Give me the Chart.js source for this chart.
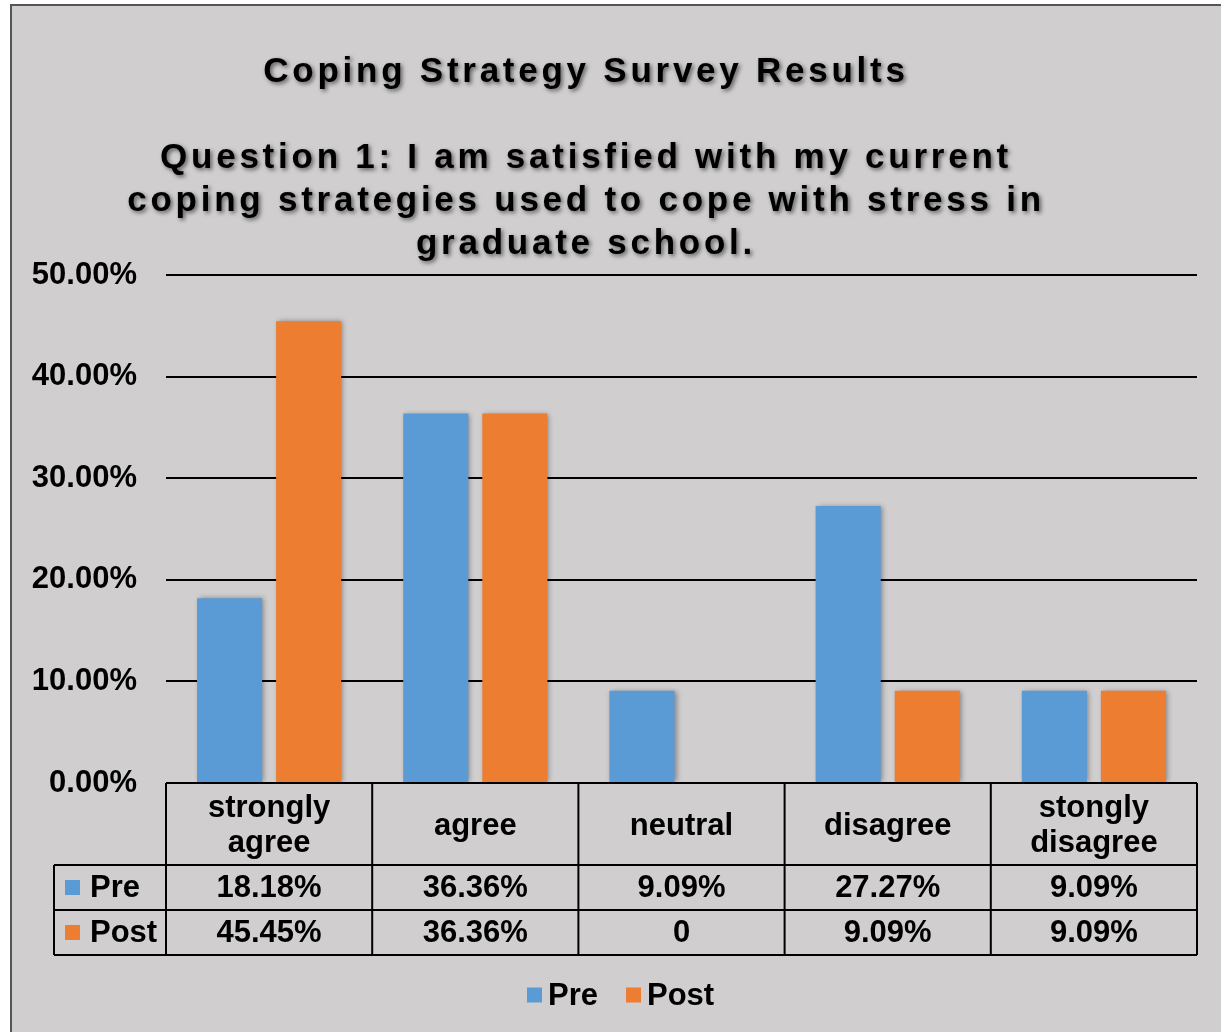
<!DOCTYPE html>
<html>
<head>
<meta charset="utf-8">
<script src="https://cdn.jsdelivr.net/npm/chart.js@4/dist/chart.umd.min.js"></script>
<style>
  html, body { margin: 0; padding: 0; background: #fff; }
  #wrap { width: 1221px; height: 1032px; }
</style>
</head>
<body>
<div id="wrap"><canvas id="chart" width="1221" height="1032"></canvas></div>
<script>
// ── DATA ──────────────────────────────────────
const categories  = [['strongly', 'agree'], 'agree', 'neutral', 'disagree', ['stongly', 'disagree']];
const preValues   = [18.18, 36.36, 9.09, 27.27, 9.09];
const postValues  = [45.45, 36.36, 0, 9.09, 9.09];
const seriesNames = ['Pre', 'Post'];
const yTicks      = [0, 10, 20, 30, 40, 50];
const titleMain   = 'Coping Strategy Survey Results';
const titleSub    = ['Question 1: I am satisfied with my current',
                     'coping strategies used to cope with stress in',
                     'graduate school.'];

const BLUE = '#5B9BD5', ORANGE = '#ED7D31', BG = '#D0CECE';
const FONT = '"Liberation Sans", Arial, sans-serif';

const fmtCell = v => v === 0 ? '0' : v.toFixed(2) + '%';

// frame, title, bar shadow, data table and legend
const decor = {
    id: 'decor',
    beforeDraw(chart) {
        const ctx = chart.ctx;
        ctx.save();
        ctx.fillStyle = '#fff';
        ctx.fillRect(0, 0, chart.width, chart.height);
        ctx.fillStyle = BG;
        ctx.fillRect(11, 5, chart.width, chart.height);
        ctx.strokeStyle = '#555';
        ctx.lineWidth = 2;
        ctx.strokeRect(11, 5, chart.width + 10, chart.height + 10);

        ctx.fillStyle = '#000';
        ctx.font = `bold 35px ${FONT}`;
        ctx.textAlign = 'center';
        ctx.textBaseline = 'alphabetic';
        ctx.letterSpacing = '3.75px';
        ctx.shadowColor = 'rgba(0,0,0,0.55)';
        ctx.shadowBlur = 4;
        ctx.shadowOffsetX = 2;
        ctx.shadowOffsetY = 2;
        ctx.fillText(titleMain, 586, 82);
        titleSub.forEach((line, i) => ctx.fillText(line, 586, 168 + i * 43));
        ctx.restore();
    },
    beforeDatasetsDraw(chart) {
        const ctx = chart.ctx;
        ctx.save();
        ctx.shadowColor = 'rgba(0,0,0,0.35)';
        ctx.shadowBlur = 5;
        ctx.shadowOffsetX = 2;
        ctx.shadowOffsetY = 0;
    },
    afterDatasetsDraw(chart) {
        chart.ctx.restore();
    },
    afterDraw(chart) {
        const ctx = chart.ctx;
        const x = chart.scales.x;
        const area = chart.chartArea;
        const half = (area.right - area.left) / categories.length / 2;
        const top = area.bottom, hdrB = top + 82, preB = hdrB + 45, postB = preB + 45;
        const labL = 54;

        ctx.save();
        ctx.strokeStyle = '#000';
        ctx.lineWidth = 2;
        ctx.beginPath();
        // horizontal lines
        ctx.moveTo(area.left, top);   ctx.lineTo(area.right, top);
        ctx.moveTo(labL, hdrB);       ctx.lineTo(area.right, hdrB);
        ctx.moveTo(labL, preB);       ctx.lineTo(area.right, preB);
        ctx.moveTo(labL, postB);      ctx.lineTo(area.right, postB);
        // vertical lines
        ctx.moveTo(labL, hdrB);       ctx.lineTo(labL, postB);
        for (let i = 0; i <= categories.length; i++) {
            const cx = area.left + i * half * 2;
            ctx.moveTo(cx, top); ctx.lineTo(cx, postB);
        }
        ctx.stroke();

        ctx.fillStyle = '#000';
        ctx.font = `bold 31px ${FONT}`;
        ctx.textAlign = 'center';
        ctx.textBaseline = 'middle';
        categories.forEach((c, i) => {
            const cx = x.getPixelForValue(i);
            const lines = Array.isArray(c) ? c : [c];
            const mid = (top + hdrB) / 2 + 2;
            lines.forEach((l, j) => ctx.fillText(l, cx, mid + (j - (lines.length - 1) / 2) * 35));
            ctx.fillText(fmtCell(preValues[i]), cx, (hdrB + preB) / 2 + 1);
            ctx.fillText(fmtCell(postValues[i]), cx, (preB + postB) / 2 + 1);
        });

        // row labels with keys
        ctx.textAlign = 'left';
        const rows = [[(hdrB + preB) / 2, BLUE], [(preB + postB) / 2, ORANGE]];
        rows.forEach(([cy, col], i) => {
            ctx.fillStyle = col;
            ctx.fillRect(65, cy - 7.5, 15, 15);
            ctx.fillStyle = '#000';
            ctx.fillText(seriesNames[i], 90, cy + 1);
        });

        // legend
        const ly = 995;
        const lx = [527, 626];
        [BLUE, ORANGE].forEach((col, i) => {
            ctx.fillStyle = col;
            ctx.fillRect(lx[i], ly - 7.5, 15, 15);
            ctx.fillStyle = '#000';
            ctx.fillText(seriesNames[i], lx[i] + 21, ly + 1);
        });
        ctx.restore();
    }
};

new Chart(document.getElementById('chart').getContext('2d'), {
    type: 'bar',
    data: {
        labels: categories,
        datasets: [
            { label: seriesNames[0], data: preValues,  backgroundColor: BLUE },
            { label: seriesNames[1], data: postValues, backgroundColor: ORANGE }
        ]
    },
    options: {
        responsive: false,
        animation: false,
        datasets: { bar: { categoryPercentage: 0.767, barPercentage: 0.823 } },
        layout: { padding: { top: 275, left: 24, right: 24, bottom: 0 } },
        plugins: {
            legend: { display: false },
            title: { display: false },
            tooltip: { enabled: false }
        },
        scales: {
            x: {
                grid: { display: false, drawTicks: false },
                border: { display: false },
                ticks: { display: false },
                afterFit: s => { s.height = 249; }
            },
            y: {
                min: 0, max: 50,
                afterFit: s => { s.width = 142; },
                afterBuildTicks: s => { s.ticks = yTicks.map(v => ({ value: v })); },
                grid: { color: '#000', lineWidth: 2, drawTicks: false },
                border: { display: false },
                ticks: {
                    padding: 29,
                    color: '#000',
                    font: { family: FONT, size: 31, weight: 'bold' },
                    callback: v => v.toFixed(2) + '%'
                }
            }
        }
    },
    plugins: [decor]
});
</script>
</body>
</html>
